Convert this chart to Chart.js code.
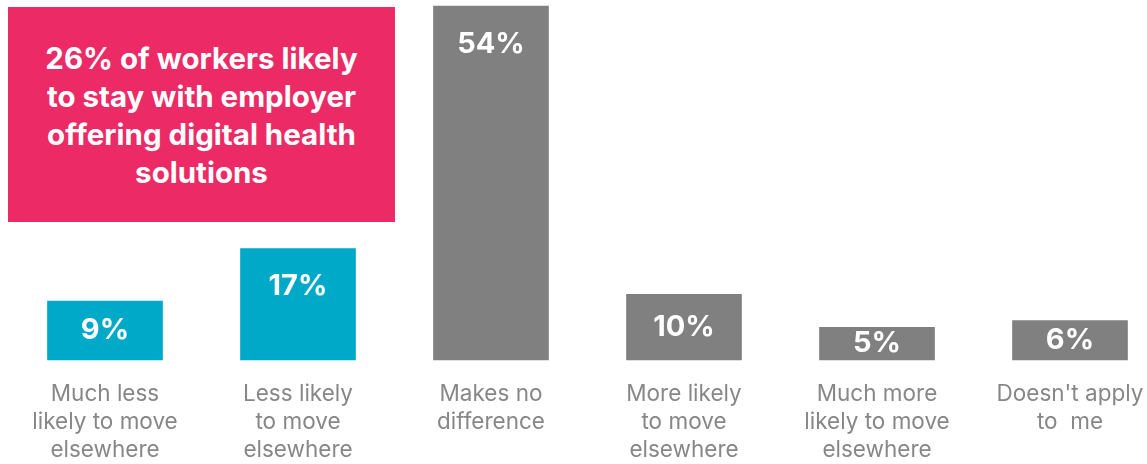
<!DOCTYPE html>
<html>
<head>
<meta charset="utf-8">
<script src="https://cdn.jsdelivr.net/npm/chart.js@4"></script>
<style>
  html, body { margin: 0; padding: 0; background: #fff; }
  #wrap { position: relative; width: 1147px; height: 464px; }
  #callout {
    position: absolute; left: 8px; top: 7px; width: 387px; height: 215px;
    background: #ec2a66; color: #fff; display: flex; align-items: center; justify-content: center;
    text-align: center; font-family: Inter, sans-serif; font-weight: 700; font-size: 29.5px; line-height: 38px;
  }
</style>
</head>
<body>
<div id="wrap">
  <canvas id="chart" width="1147" height="464"></canvas>
  <div id="callout">26% of workers likely<br>to stay with employer<br>offering digital health<br>solutions</div>
</div>
<script>
const categories = [
  ['Much less', 'likely to move', 'elsewhere'],
  ['Less likely', 'to move', 'elsewhere'],
  ['Makes no', 'difference'],
  ['More likely', 'to move', 'elsewhere'],
  ['Much more', 'likely to move', 'elsewhere'],
  ["Doesn't apply", 'to  me']
];
const shares = [9, 17, 54, 10, 5, 6];
const barColors = ['#00a9c8', '#00a9c8', '#808080', '#808080', '#808080', '#808080'];

// white % label inside the top of each bar
const valueLabels = {
  id: 'valueLabels',
  afterDatasetsDraw(chart) {
    const ctx = chart.ctx;
    const meta = chart.getDatasetMeta(0);
    ctx.save();
    ctx.fillStyle = '#fff';
    ctx.font = 'bold 29px Inter, sans-serif';
    ctx.textAlign = 'center';
    ctx.textBaseline = 'middle';
    meta.data.forEach((bar, i) => {
      const h = bar.base - bar.y;
      const off = Math.min(38, h / 2);
      ctx.fillText(shares[i] + '%', bar.x, bar.y + off);
    });
    ctx.restore();
  }
};

new Chart(document.getElementById('chart'), {
  type: 'bar',
  data: {
    labels: categories,
    datasets: [{
      data: shares,
      backgroundColor: barColors,
      barThickness: 115,
      clip: false
    }]
  },
  options: {
    responsive: false,
    animation: false,
    layout: { padding: { left: 105, right: 77, top: 6, bottom: -20 } },
    scales: {
      x: {
        offset: false,
        afterFit(scale) {
          scale.paddingLeft = 0;
          scale.paddingRight = 0;
        },
        grid: { display: false, drawTicks: false },
        border: { display: false },
        ticks: {
          autoSkip: false,
          maxRotation: 0,
          padding: 20,
          color: '#878787',
          font: { family: 'Inter, sans-serif', size: 22.5, lineHeight: '28px' }
        }
      },
      y: {
        display: false,
        min: 0,
        max: 54
      }
    },
    plugins: {
      legend: { display: false },
      tooltip: { enabled: false }
    }
  },
  plugins: [valueLabels]
});
</script>
</body>
</html>
